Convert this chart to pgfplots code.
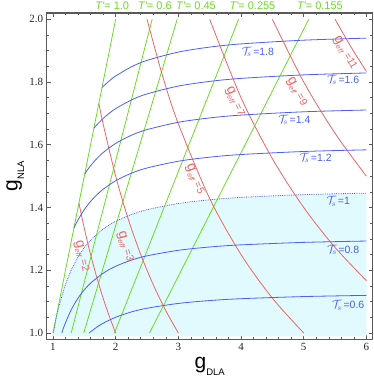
\documentclass[border=0pt]{standalone}
\usepackage{pgfplots}
\pgfplotsset{compat=1.18}
\usepackage{fontspec}
\setmainfont{Liberation Serif}
\newfontfamily\arial{Liberation Sans}
\definecolor{mblue}{RGB}{75,95,240}
\definecolor{mred}{RGB}{240,100,100}
\definecolor{mgreen}{RGB}{105,220,35}
\definecolor{mcyan}{RGB}{224,250,253}
\definecolor{mframe}{RGB}{90,90,90}
\newcommand{\Ts}[1]{\textcolor{mblue}{\fontsize{11.5}{11.5}\selectfont$\mathcal{T}_{\!s}$\arial\fontsize{10.5}{10.5}\selectfont\,=#1}}
\newcommand{\Tp}[1]{\textcolor{mgreen}{\fontsize{11}{11}\selectfont\arial\itshape T'\upshape= #1}}
\newcommand{\Ge}[1]{\textcolor{mred}{\arial\fontsize{14}{14}\selectfont g\raisebox{-3pt}{\fontsize{7.5}{7.5}\selectfont\itshape eff}\fontsize{10.5}{10.5}\selectfont\ =#1}}
\begin{document}
\begin{tikzpicture}
\begin{axis}[name=ax,
  scale only axis, width=326pt, height=326.3pt,
  xmin=0.9, xmax=6.1, ymin=0.98, ymax=2.02,
  clip=false,
  axis line style={mframe, line width=1.1pt},
  xtick={1,2,3,4,5,6}, ytick={1.0,1.2,1.4,1.6,1.8,2.0},
  minor x tick num=4, minor y tick num=3,
  major tick length=4pt, minor tick length=2.3pt,
  tick style={mframe, line width=0.6pt},
  tick align=inside,
  /pgf/number format/assume math mode=true,
  ticklabel style={font=\fontsize{11}{11}\selectfont, text=black!85},
  yticklabel style={/pgf/number format/fixed, /pgf/number format/fixed zerofill, /pgf/number format/precision=1},
  xticklabel style={/pgf/number format/fixed, /pgf/number format/precision=0},
]
% shaded region below T_s = 1
\addplot[fill=mcyan, draw=none] coordinates {
 (0.97,0.99) (1.005,1.0) (1.05,1.0457) (1.1,1.0885) (1.2,1.1552) (1.3,1.2046) (1.4,1.2423)
 (1.5,1.2720) (1.6,1.2958) (1.8,1.3312) (2.0,1.3559) (2.25,1.3777) (2.5,1.3930)
 (3.0,1.4128) (3.5,1.4246) (4.0,1.4322) (5.0,1.4411) (6.0,1.4459) (6.0,0.99)} -- cycle;

% green T' lines
\addplot[mgreen, line width=0.8pt] coordinates {(1,1) (2,2)};
\addplot[mgreen, line width=0.8pt] coordinates {(1.2910,1) (2.5820,2)};
\addplot[mgreen, line width=0.8pt] coordinates {(1.4907,1) (2.9814,2)};
\addplot[mgreen, line width=0.8pt] coordinates {(1.9803,1) (3.9606,2)};
\addplot[mgreen, line width=0.8pt] coordinates {(2.5400,1) (5.0800,2)};

% red g_eff curves
\addplot[mred, line width=0.8pt, smooth] coordinates {(1.4142,1.4142) (1.5,1.3333) (1.6,1.25) (1.7,1.1765) (1.8,1.1111) (1.9,1.0526) (2.0,1.0)};
\addplot[mred, line width=0.8pt, smooth] coordinates {(1.7321,1.7321) (1.8,1.6667) (2.0,1.5) (2.2,1.3636) (2.4,1.25) (2.6,1.1538) (2.8,1.0714) (3.0,1.0)};
\addplot[mred, line width=0.8pt, smooth] coordinates {(2.5,2) (2.75,1.8182) (3,1.6667) (3.5,1.4286) (4,1.25) (4.5,1.1111) (5,1)};
\addplot[mred, line width=0.8pt, smooth] coordinates {(3.5,2) (4,1.75) (4.5,1.5556) (5,1.4) (5.5,1.2727) (6,1.1667)};
\addplot[mred, line width=0.8pt, smooth] coordinates {(4.5,2) (5,1.8) (5.5,1.6364) (6,1.5)};
\addplot[mred, line width=0.8pt, smooth] coordinates {(5.5,2) (5.75,1.9130) (6,1.8333)};

% blue T_s curves
\addplot[mblue, line width=0.8pt, smooth] coordinates {(1.7825,1.7825) (1.85,1.7953) (1.9,1.8039) (2.0,1.8192) (2.25,1.8483) (2.5,1.8690) (3.0,1.8955) (3.5,1.9113) (4.0,1.9215) (5.0,1.9334) (6.0,1.9398)};
\addplot[mblue, line width=0.8pt, smooth] coordinates {(1.6525,1.6525) (1.7,1.6635) (1.8,1.6838) (1.9,1.7008) (2.0,1.7151) (2.25,1.7426) (2.5,1.7621) (3.0,1.7871) (3.5,1.8020) (4.0,1.8116) (5.0,1.8228) (6.0,1.8289)};
\addplot[mblue, line width=0.8pt, smooth] coordinates {(1.5074,1.5074) (1.55,1.5199) (1.6,1.5332) (1.7,1.5561) (1.8,1.5751) (2.0,1.6043) (2.25,1.6301) (2.5,1.6483) (3.0,1.6717) (3.5,1.6856) (4.0,1.6946) (5.0,1.7051) (6.0,1.7108)};
\addplot[mblue, line width=0.8pt, smooth] coordinates {(1.3354,1.3354) (1.4,1.3609) (1.5,1.3934) (1.6,1.4195) (1.7,1.4407) (1.8,1.4582) (2.0,1.4853) (2.25,1.5092) (2.5,1.5260) (3.0,1.5476) (3.5,1.5605) (4.0,1.5689) (5.0,1.5786) (6.0,1.5839)};
\addplot[mblue, line width=0.8pt, smooth, densely dotted] coordinates {(1.005,1.0) (1.05,1.0457) (1.1,1.0885) (1.2,1.1552) (1.3,1.2046) (1.4,1.2423) (1.5,1.2720) (1.6,1.2958) (1.8,1.3312) (2.0,1.3559) (2.25,1.3777) (2.5,1.3930) (3.0,1.4128) (3.5,1.4246) (4.0,1.4322) (5.0,1.4411) (6.0,1.4459)};
\addplot[mblue, line width=0.8pt, smooth] coordinates {(1.140,1.0) (1.2,1.0332) (1.3,1.0774) (1.4,1.1112) (1.5,1.1377) (1.6,1.1590) (1.8,1.1906) (2.0,1.2128) (2.25,1.2322) (2.5,1.2460) (3.0,1.2637) (3.5,1.2742) (4.0,1.2810) (5.0,1.2889) (6.0,1.2932)};
\addplot[mblue, line width=0.8pt, smooth] coordinates {(1.578,1.0) (1.6,1.0037) (1.7,1.0187) (1.8,1.0311) (2.0,1.0503) (2.25,1.0672) (2.5,1.0790) (3.0,1.0943) (3.5,1.1035) (4.0,1.1094) (5.0,1.1162) (6.0,1.1200)};

% labels T_s
\node[inner sep=0pt] at (axis cs:4.27,1.896) {\Ts{1.8}};
\node[inner sep=0pt] at (axis cs:5.63,1.807) {\Ts{1.6}};
\node[inner sep=0pt] at (axis cs:4.85,1.679) {\Ts{1.4}};
\node[inner sep=0pt] at (axis cs:5.19,1.558) {\Ts{1.2}};
\node[inner sep=0pt] at (axis cs:5.55,1.419) {\Ts{1}};
\node[inner sep=0pt] at (axis cs:5.63,1.265) {\Ts{0.8}};
\node[inner sep=0pt] at (axis cs:5.71,1.089) {\Ts{0.6}};

% labels T'
\node[anchor=base, yshift=3pt] at (axis cs:1.946,2.02) {\Tp{1.0}};
\node[anchor=base, yshift=3pt] at (axis cs:2.627,2.02) {\Tp{0.6}};
\node[anchor=base, yshift=3pt] at (axis cs:3.281,2.02) {\Tp{0.45}};
\node[anchor=base, yshift=3pt] at (axis cs:4.182,2.02) {\Tp{0.255}};
\node[anchor=base, yshift=3pt] at (axis cs:5.258,2.02) {\Tp{0.155}};

% labels g_eff
\node[rotate=-76, inner sep=0pt] at (axis cs:1.455,1.245) {\Ge{2}};
\node[rotate=-73, inner sep=0pt] at (axis cs:2.15,1.275) {\Ge{3}};
\node[rotate=-67, inner sep=0pt] at (axis cs:3.26,1.49) {\Ge{5}};
\node[rotate=-66, inner sep=0pt] at (axis cs:3.90,1.737) {\Ge{7}};
\node[rotate=-62, inner sep=0pt] at (axis cs:4.887,1.769) {\Ge{9}};
\node[rotate=-60, inner sep=0pt] at (axis cs:5.657,1.892) {\Ge{11}};

% axis labels
\node[anchor=base, yshift=-29.2pt] at (rel axis cs:0.5,0) {\arial\fontsize{21}{21}\selectfont g\raisebox{-6.5pt}{\fontsize{9.5}{9.5}\selectfont DLA}};
\node[anchor=base, rotate=90, yshift=29.1pt] at (rel axis cs:0,0.5) {\arial\fontsize{21}{21}\selectfont g\raisebox{-6.5pt}{\fontsize{9.5}{9.5}\selectfont NLA}};
\end{axis}
\pgfresetboundingbox
\path[use as bounding box] ([xshift=-46.7pt,yshift=-40.7pt]ax.south west) rectangle ([xshift=1.3pt,yshift=13pt]ax.north east);
\end{tikzpicture}
\end{document}
